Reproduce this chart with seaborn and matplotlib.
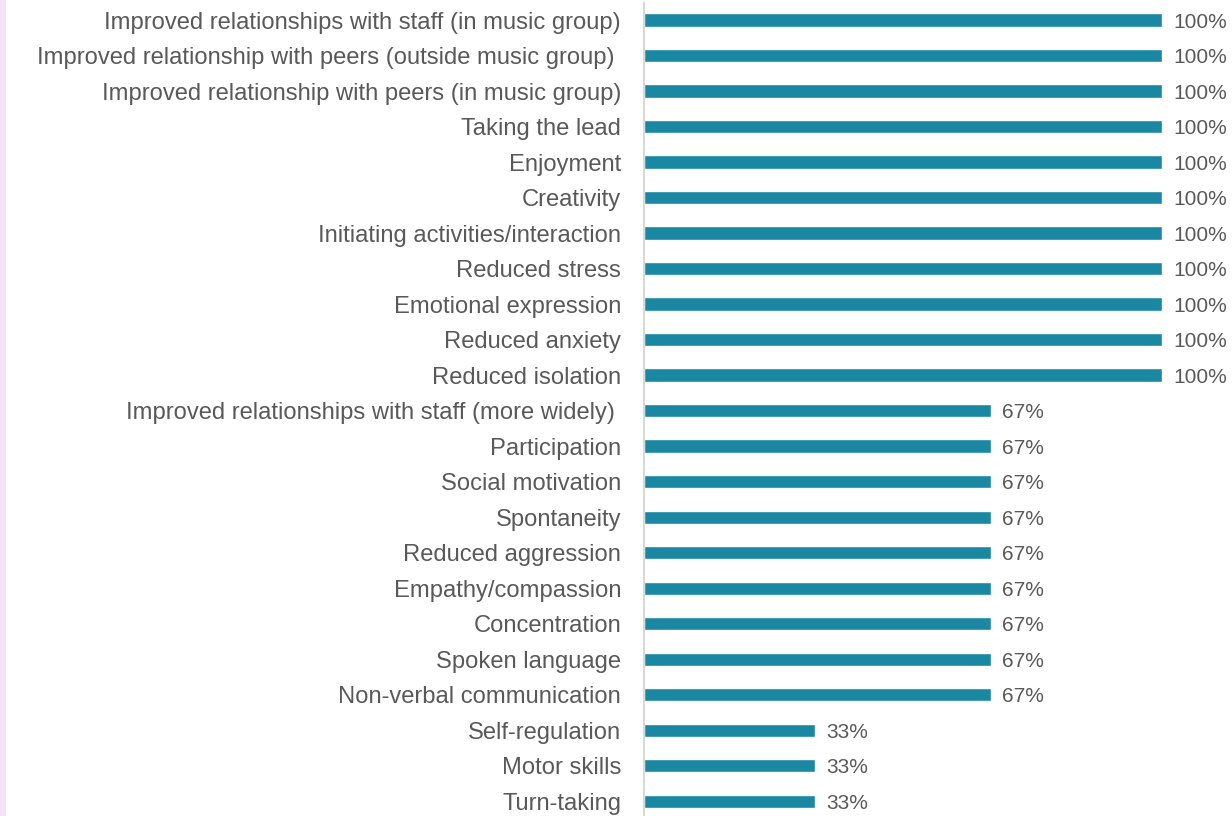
import matplotlib
matplotlib.use("Agg")
import matplotlib.pyplot as plt
import seaborn as sns
import pandas as pd
from matplotlib.patches import Rectangle

categories = [
    "Improved relationships with staff (in music group)",
    "Improved relationship with peers (outside music group) ",
    "Improved relationship with peers (in music group)",
    "Taking the lead",
    "Enjoyment",
    "Creativity",
    "Initiating activities/interaction",
    "Reduced stress",
    "Emotional expression",
    "Reduced anxiety",
    "Reduced isolation",
    "Improved relationships with staff (more widely) ",
    "Participation",
    "Social motivation",
    "Spontaneity",
    "Reduced aggression",
    "Empathy/compassion",
    "Concentration",
    "Spoken language",
    "Non-verbal communication",
    "Self-regulation",
    "Motor skills",
    "Turn-taking",
]
values = [100] * 11 + [67] * 9 + [33] * 3

df = pd.DataFrame({"category": categories, "value": values})

sns.set_theme(style="white")
plt.rcParams["font.family"] = ["Liberation Sans", "DejaVu Sans"]

W, H = 1232, 816
fig = plt.figure(figsize=(W / 100, H / 100), dpi=100)
ax_left = 644 / W
ax = fig.add_axes([ax_left, 0, 1 - ax_left, 1 - 3 / H])

sns.barplot(data=df, x="value", y="category", color="#1A88A2", saturation=1,
            width=0.37, ax=ax, orient="h")

ax.set_xlim(0, 100 * (W - 644) / 518)
ax.set_ylim(22.42, -0.48)
ax.set_xlabel("")
ax.set_ylabel("")
ax.set_xticks([])
ax.tick_params(axis="y", length=0, pad=16.5, labelsize=17.1, labelcolor="#595959")
for s in ["top", "right", "bottom"]:
    ax.spines[s].set_visible(False)
ax.spines["left"].set_color("#D9D9D9")
ax.spines["left"].set_linewidth(1.5)

for c in ax.containers:
    anns = ax.bar_label(c, labels=[f"{v}%" for v in values], padding=8,
                        fontsize=15, color="#595959")
    for a in anns:
        a.set_va("center_baseline")

fig.patches.append(Rectangle((0, 0), 6 / W, 1, transform=fig.transFigure,
                             facecolor="#F1E4F7", edgecolor="none", zorder=-1))

fig.savefig("out.png", dpi=100)
